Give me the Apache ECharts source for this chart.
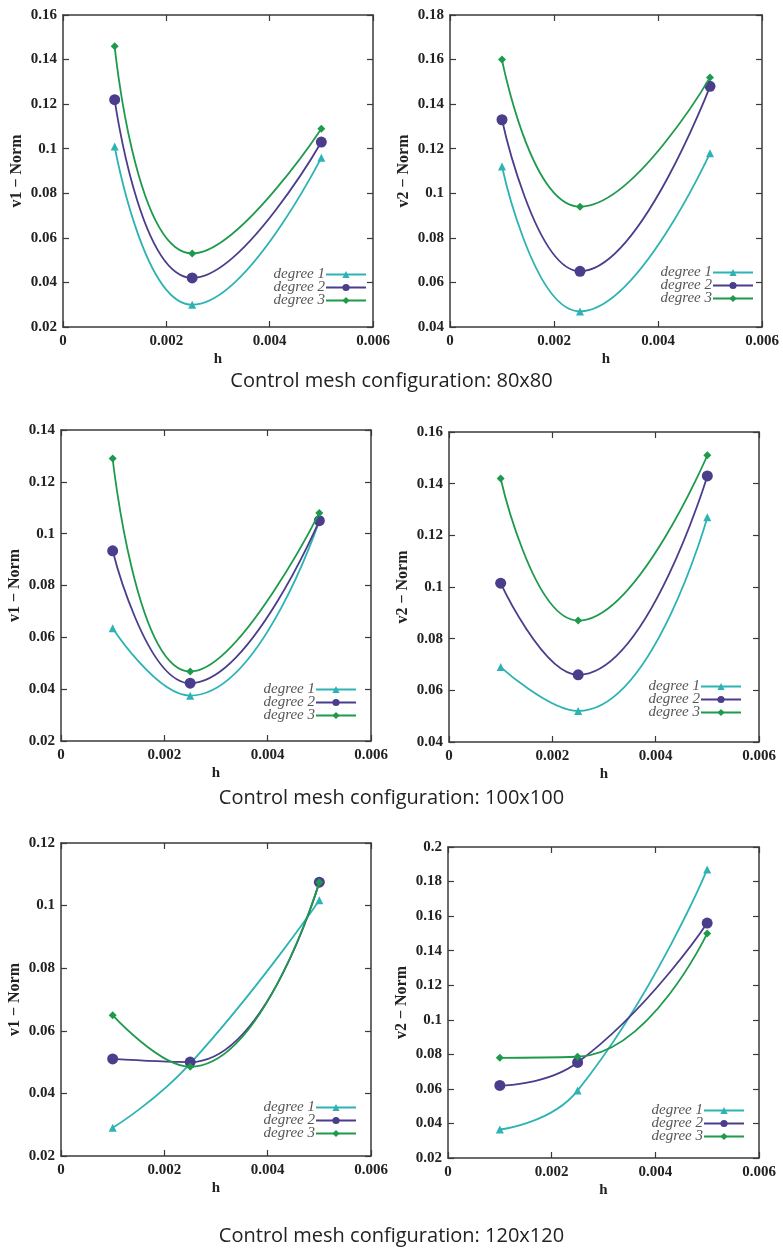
<!DOCTYPE html>
<html>
<head>
<meta charset="utf-8">
<script src="https://cdn.jsdelivr.net/npm/echarts@6/dist/echarts.min.js"></script>
<style>
html,body{margin:0;padding:0;background:#fff;}
#chart{width:783px;height:1249px;}
</style>
</head>
<body>
<div id="chart"></div>
<script>
// ---- data ----
const hValues = [0.001, 0.0025, 0.005];
const seriesNames = ['degree 1', 'degree 2', 'degree 3'];
const xTicks = ['0', '0.002', '0.004', '0.006'];
const captions = ['Control mesh configuration: 80x80', 'Control mesh configuration: 100x100', 'Control mesh configuration: 120x120'];

// 80x80
const v1_80_deg1 = [0.101, 0.030, 0.096];
const v1_80_deg2 = [0.122, 0.042, 0.103];
const v1_80_deg3 = [0.146, 0.053, 0.109];
const v2_80_deg1 = [0.112, 0.047, 0.118];
const v2_80_deg2 = [0.133, 0.065, 0.148];
const v2_80_deg3 = [0.160, 0.094, 0.152];
// 100x100
const v1_100_deg1 = [0.0635, 0.0375, 0.105];
const v1_100_deg2 = [0.0934, 0.0423, 0.105];
const v1_100_deg3 = [0.129, 0.0468, 0.108];
const v2_100_deg1 = [0.069, 0.052, 0.127];
const v2_100_deg2 = [0.1015, 0.066, 0.143];
const v2_100_deg3 = [0.142, 0.087, 0.151];
// 120x120
const v1_120_deg1 = [0.029, 0.0495, 0.1017];
const v1_120_deg2 = [0.051, 0.050, 0.1075];
const v1_120_deg3 = [0.065, 0.0485, 0.1075];
const v2_120_deg1 = [0.0365, 0.059, 0.187];
const v2_120_deg2 = [0.062, 0.0753, 0.156];
const v2_120_deg3 = [0.078, 0.0786, 0.150];

// y-axis ranges [min, max, interval]
const yRange_v1_80 = [0.02, 0.16, 0.02];
const yRange_v2_80 = [0.04, 0.18, 0.02];
const yRange_v1_100 = [0.02, 0.14, 0.02];
const yRange_v2_100 = [0.04, 0.16, 0.02];
const yRange_v1_120 = [0.02, 0.12, 0.02];
const yRange_v2_120 = [0.02, 0.20, 0.02];

// ---- layout ----
const panels = [
  {name:'v1 − Norm', data:[v1_80_deg1, v1_80_deg2, v1_80_deg3], y:yRange_v1_80, grid:{left:63, top:15, width:310, height:312}, legend:{right:783-367, top:267}},
  {name:'v2 − Norm', data:[v2_80_deg1, v2_80_deg2, v2_80_deg3], y:yRange_v2_80, grid:{left:450, top:15, width:312, height:312}, legend:{right:783-754, top:265}},
  {name:'v1 − Norm', data:[v1_100_deg1, v1_100_deg2, v1_100_deg3], y:yRange_v1_100, grid:{left:61, top:430, width:310, height:311}, legend:{right:783-357, top:682}},
  {name:'v2 − Norm', data:[v2_100_deg1, v2_100_deg2, v2_100_deg3], y:yRange_v2_100, grid:{left:449, top:432, width:310, height:310}, legend:{right:783-742, top:679}},
  {name:'v1 − Norm', data:[v1_120_deg1, v1_120_deg2, v1_120_deg3], y:yRange_v1_120, grid:{left:61, top:843, width:310, height:313}, legend:{right:783-357, top:1100}},
  {name:'v2 − Norm', data:[v2_120_deg1, v2_120_deg2, v2_120_deg3], y:yRange_v2_120, grid:{left:448, top:847, width:311, height:311}, legend:{right:783-745, top:1103}}
];
const captionTops = [366, 783, 1221];

const colors = ['#2db3b3', '#4a3d8c', '#1e9a4c'];
const symbols = ['triangle', 'circle', 'diamond'];
const symbolSizes = [8, 11, 8];
const serif = '"Liberation Serif", "DejaVu Serif", serif';
const axisColor = '#3a3a3a';

const option = {
  backgroundColor: '#ffffff',
  animation: false,
  title: [], grid: [], xAxis: [], yAxis: [], legend: [], series: []
};

captions.forEach((c, i) => {
  option.title.push({
    text: c, left: 'center', top: captionTops[i],
    textStyle: {fontFamily: '"Open Sans", "Noto Sans", sans-serif', fontSize: 20, fontWeight: 'normal', color: '#222'}
  });
});

panels.forEach((p, gi) => {
  option.grid.push(Object.assign({containLabel: false}, p.grid));
  const xi = option.xAxis.length;
  const yi = option.yAxis.length;
  const xCommon = {
    type: 'value', gridIndex: gi, min: 0, max: 0.006, interval: 0.002,
    axisLine: {show: true, onZero: false, lineStyle: {color: axisColor, width: 1.5}},
    axisTick: {show: true, inside: true, length: 6, lineStyle: {color: axisColor, width: 1.2}},
    splitLine: {show: false}
  };
  option.xAxis.push(Object.assign({}, xCommon, {
    position: 'bottom', name: 'h', nameLocation: 'middle', nameGap: 25,
    nameTextStyle: {fontFamily: serif, fontWeight: 'bold', fontSize: 15, color: '#222'},
    axisLabel: {fontFamily: serif, fontWeight: 'bold', fontSize: 15, color: '#222', margin: 7,
      formatter: (v) => { const s = xTicks.find(t => Math.abs(parseFloat(t) - v) < 1e-9); return s !== undefined ? s : ''; }}
  }));
  option.xAxis.push(Object.assign({}, xCommon, {position: 'top', axisLabel: {show: false}}));
  const yCommon = {
    type: 'value', gridIndex: gi, min: p.y[0], max: p.y[1], interval: p.y[2],
    axisLine: {show: true, onZero: false, lineStyle: {color: axisColor, width: 1.5}},
    axisTick: {show: true, inside: true, length: 6, lineStyle: {color: axisColor, width: 1.2}},
    splitLine: {show: false}
  };
  option.yAxis.push(Object.assign({}, yCommon, {
    position: 'left', name: p.name, nameLocation: 'middle', nameGap: 38,
    nameTextStyle: {fontFamily: serif, fontWeight: 'bold', fontSize: 16, color: '#222'},
    axisLabel: {fontFamily: serif, fontWeight: 'bold', fontSize: 15, color: '#222', margin: 6,
      formatter: (v) => String(parseFloat(v.toFixed(4)))}
  }));
  option.yAxis.push(Object.assign({}, yCommon, {position: 'right', axisLabel: {show: false}}));

  option.legend.push({
    orient: 'vertical', right: p.legend.right, top: p.legend.top, align: 'right',
    itemWidth: 40, itemHeight: 9, itemGap: -2, padding: 0,
    textStyle: {fontFamily: serif, fontStyle: 'italic', fontSize: 15, color: '#555', padding: [0, -4, 0, 0]},
    data: seriesNames.slice()
  });

  p.data.forEach((vals, si) => {
    option.series.push({
      name: seriesNames[si], type: 'line', xAxisIndex: xi, yAxisIndex: yi,
      data: hValues.map((h, k) => [h, vals[k]]),
      smooth: 0.5,
      symbol: symbols[si], symbolSize: symbolSizes[si], showSymbol: true,
      itemStyle: {color: colors[si]},
      lineStyle: {color: colors[si], width: 1.8},
      z: 3 + si
    });
  });
});

const chart = echarts.init(document.getElementById('chart'), null, {renderer: 'canvas', width: 783, height: 1249});
chart.setOption(option);
</script>
</body>
</html>
